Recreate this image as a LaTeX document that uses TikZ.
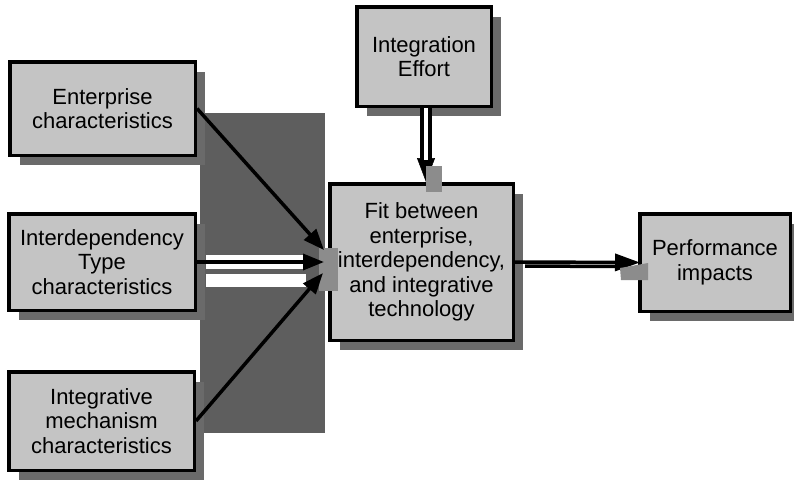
\documentclass[tikz,border=0pt]{standalone}
\usepackage{fontspec}
\setmainfont{Liberation Sans}
\usetikzlibrary{arrows.meta,shadows,calc}

\definecolor{boxfill}{HTML}{C4C4C4}
\definecolor{shade}{HTML}{6A6A6A}
\definecolor{panel}{HTML}{5E5E5E}
\definecolor{tipshade}{HTML}{8C8C8C}

\begin{document}
\begin{tikzpicture}[x=1pt,y=-1pt,
  factor/.style={draw=black, line width=3.5pt, fill=boxfill, align=center,
    inner sep=0pt, font=\fontsize{22}{24.5}\selectfont,
    general shadow={shadow xshift=10pt, shadow yshift=-10pt, fill=shade}},
  link/.style={line width=3.5pt, -{Triangle[length=21pt,width=16pt]}},
]
\useasboundingbox[fill=white] (0,0) rectangle (794,480);

% dark backdrop behind the converging inputs
\fill[panel] (200,113) rectangle (325,433);

% factor boxes
\node[factor, minimum width=185.5pt, minimum height=93.5pt] (ent) at (102.5,108.5)
  {Enterprise\\characteristics};
\node[factor, minimum width=186.5pt, minimum height=96.5pt] (intd) at (102,262)
  {Interdependency\\Type\\characteristics};
\node[factor, minimum width=185.5pt, minimum height=98.5pt] (mech) at (101.5,421)
  {Integrative\\mechanism\\characteristics};
\node[factor, minimum width=134.5pt, minimum height=99.5pt] (eff) at (424,56.5)
  {Integration\\Effort};
\node[factor, minimum width=183.5pt, minimum height=156.5pt] (fit) at (421.5,262)
  {Fit between\\enterprise,\\interdependency,\\and integrative\\technology};
\node[factor, minimum width=150.5pt, minimum height=97.5pt] (perf) at (715,262.5)
  {Performance\\impacts};

% arrow-end points on the fit box
\coordinate (inA) at ($(fit.west)+(-4,-12)$);
\coordinate (inB) at ($(fit.west)+(-4,0)$);
\coordinate (inC) at ($(fit.west)+(-5,11)$);
\coordinate (effTop) at ($(eff.south)+(2,0)$);
\coordinate (effTip) at ($(eff.south |- fit.north)+(2,0)$);

% shading under the arrowheads on the left of the fit box
\fill[tipshade] (319,248) rectangle (338,291);

% interdependency link: white bands with a black line
\fill[white] (206,255) rectangle (305,269);
\fill[white] (206,274) rectangle (306,287);

% input links
\draw[link] (ent.east) -- (inA);
\draw[link] (intd.east) -- (inB);
\draw[link] (mech.east) -- (inC);

% integration effort link (double line)
\draw[-{Triangle[length=24pt,width=18pt]}, line width=0.5pt] (effTop) -- (effTip);
\draw[line width=4pt, double=white, double distance=3.5pt, shorten >=22pt] (effTop) -- (effTip);
\fill[tipshade] (426,166) rectangle (442,192);

% performance link
\draw[shade, line width=3.5pt] ($(fit.east)+(10,4)$) -- ($(perf.west)+(-20,4)$);
\draw[link, -{Triangle[length=25pt,width=17pt]}] (fit.east) -- ($(perf.west)+(2,0)$);
\fill[tipshade] (620,268) -- (648,263) -- (648,280) -- (621,280) -- cycle;
\end{tikzpicture}
\end{document}
